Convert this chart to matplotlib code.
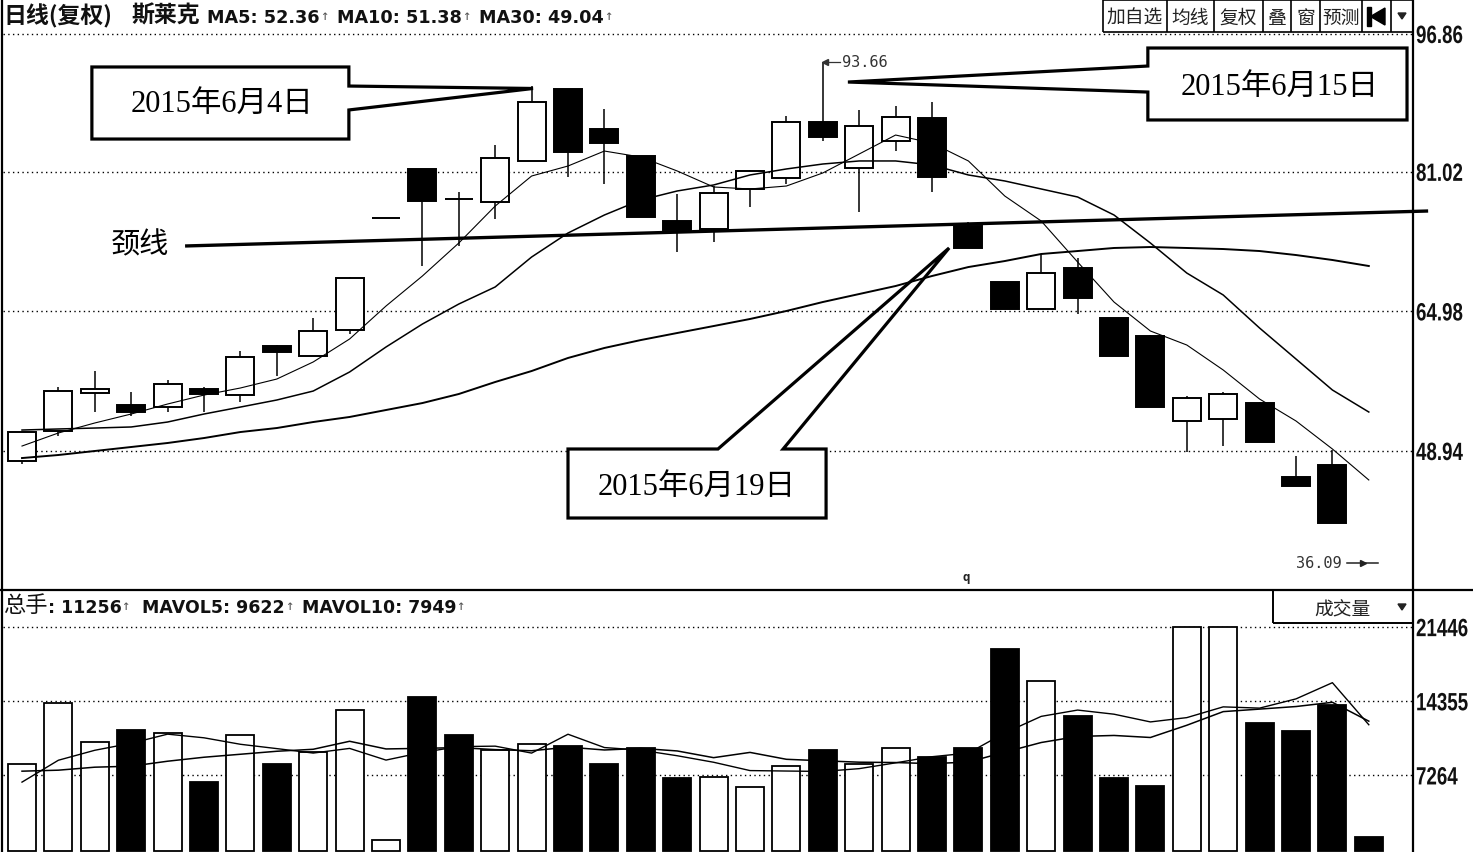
import matplotlib
matplotlib.use("Agg")
import matplotlib.pyplot as plt
from matplotlib import font_manager
from matplotlib.font_manager import FontProperties
from matplotlib.patches import Rectangle, Polygon, PathPatch
from matplotlib.path import Path
from matplotlib.textpath import TextPath

# ---------------- data ----------------
opens = [47.79, 51.24, 55.60, 54.22, 54.00, 56.06, 55.37, 61.01, 59.86, 62.84,
         75.71, 81.35, 77.85, 77.55, 82.27, 90.54, 85.94, 82.84, 75.37, 74.45,
         79.05, 80.31, 86.75, 81.46, 84.56, 87.21, 74.80, 68.36, 65.26, 69.97,
         64.22, 62.15, 52.42, 52.62, 54.45, 45.95, 47.33]
highs = [51.12, 56.29, 58.13, 55.72, 57.10, 56.29, 60.43, 61.12, 64.22, 68.93,
         75.71, 81.35, 78.70, 84.10, 90.88, 90.54, 88.24, 82.84, 78.47, 79.39,
         81.23, 87.44, 93.66, 88.13, 88.59, 89.05, 75.26, 68.36, 71.58, 71.12,
         64.22, 62.27, 55.26, 55.72, 54.57, 48.36, 49.05]
lows = [47.45, 50.66, 53.42, 52.96, 53.42, 53.42, 54.57, 57.56, 59.86, 62.38,
        75.71, 70.20, 72.50, 75.60, 82.27, 80.43, 79.62, 75.83, 71.81, 72.96,
        76.98, 79.62, 84.56, 76.40, 83.38, 78.70, 72.27, 65.26, 65.26, 64.68,
        59.86, 54.00, 48.82, 49.51, 49.97, 44.92, 40.66]
closes = [51.12, 55.83, 56.06, 53.42, 56.64, 55.49, 59.74, 60.32, 62.73, 68.82,
          75.71, 77.67, 77.78, 82.61, 89.04, 83.30, 84.33, 75.83, 74.34, 78.59,
          81.12, 86.75, 85.02, 86.29, 87.32, 80.43, 72.27, 65.26, 69.39, 66.52,
          59.86, 54.00, 55.03, 55.49, 49.97, 44.92, 40.66]

ma5 = [49.51, 51.01, 52.16, 53.19, 54.34, 55.37, 56.18, 57.21, 59.17, 61.81,
       65.60, 69.05, 72.84, 77.09, 80.54, 81.69, 83.41, 82.72, 81.12, 79.28,
       79.05, 79.39, 80.89, 83.07, 85.25, 84.33, 82.27, 78.24, 75.37, 70.66,
       66.06, 62.73, 61.12, 58.25, 54.91, 52.39, 49.17, 45.61]
ma10 = [51.35, 51.47, 51.58, 51.70, 52.27, 53.19, 53.99, 54.80, 55.83, 58.02,
        60.89, 63.53, 65.83, 67.79, 71.23, 73.99, 76.06, 77.78, 78.82, 79.51,
        80.66, 81.35, 81.92, 82.27, 82.27, 81.81, 80.66, 79.97, 79.05, 78.13,
        76.06, 72.84, 69.39, 66.87, 63.07, 59.51, 55.95, 53.42]
ma30 = [48.13, 48.48, 48.94, 49.40, 49.86, 50.43, 51.12, 51.58, 52.27, 52.85,
        53.65, 54.45, 55.49, 56.87, 58.13, 59.63, 60.78, 61.69, 62.50, 63.30,
        64.11, 65.03, 66.06, 66.98, 67.90, 69.05, 70.08, 70.77, 71.58, 71.92,
        72.27, 72.38, 72.27, 72.15, 71.92, 71.46, 70.89, 70.20]

volume = [8404, 14201, 10476, 11651, 11336, 6656, 11107, 8404, 9521, 13561,
          1079, 14774, 11174, 9741, 10247, 10094, 8404, 9932, 7067, 7134,
          6112, 8184, 9741, 8404, 9903, 9044, 9932, 19387, 16302, 12921,
          7067, 6236, 21446, 21446, 12320, 11489, 13972, 1337]
mavol5 = [6626, 8720, 9672, 10340, 11214, 10864, 10245, 9831, 9405, 9850,
          8734, 9468, 10022, 10066, 9403, 11206, 9932, 9684, 9149, 8526,
          7730, 7686, 7648, 7915, 8469, 9055, 9405, 11334, 12914, 13517,
          13122, 12383, 12794, 13823, 13703, 14587, 16135, 12113]
mavol10 = [7673, 7768, 8054, 8149, 8625, 9006, 9291, 9577, 9768, 10532,
           9799, 9857, 9926, 9735, 9626, 9970, 9700, 9853, 9607, 8965,
           9468, 8809, 8666, 8532, 8498, 8393, 8545, 9491, 10414, 10993,
           11089, 10894, 12064, 13368, 13610, 13855, 14259, 12454]

price_ticks = [96.86, 81.02, 64.98, 48.94]
volume_ticks = [21446, 14355, 7264]
high_mark = (22, 93.66)
low_mark = 36.09
header_ma = [("MA5", 52.36), ("MA10", 51.38), ("MA30", 49.04)]
header_vol = [("总手", 11256), ("MAVOL5", 9622), ("MAVOL10", 7949)]
buttons = ["加自选", "均线", "复权", "叠", "窗", "预测"]
event_labels = ["2015年6月4日", "2015年6月15日", "2015年6月19日"]
neck_label = "颈线"
neckline = [(4.48, 72.50), (38.63, 76.52)]

# ---------------- fonts ----------------
names = {f.name for f in font_manager.fontManager.ttflist}
CJK = "Noto Sans CJK SC"
LABEL_FACE = "Liberation Sans" if "Liberation Sans" in names else "DejaVu Sans"
SERIF_MIX = ["Liberation Serif", CJK]

# ---------------- layout ----------------
W, H = 1473, 853
fig = plt.figure(figsize=(W / 100, H / 100), dpi=100, facecolor="white")


def axes_px(left, top, right, bottom):
    return fig.add_axes([left / W, 1 - bottom / H, (right - left) / W, (bottom - top) / H])


X0, STEP = 22.0, 36.4          # candle spacing in pixels
AX_L, AX_R, SEP = 3, 1413, 591


def col(px):
    return (px - X0) / STEP


PPX = (price_ticks[0] - price_ticks[-1]) / (452 - 35)   # price per pixel
ax = axes_px(AX_L, 0, AX_R, SEP)
ax.set_xlim(col(AX_L), col(AX_R))
ax.set_ylim(price_ticks[0] - (SEP - 35) * PPX, price_ticks[0] + 35 * PPX)
ax.axis("off")

VPX = 95.2                                              # volume per pixel
vax = axes_px(AX_L, SEP, AX_R, H)
vax.set_xlim(col(AX_L), col(AX_R))
vax.set_ylim(-0.6 * VPX, (853.6 - SEP) * VPX)
vax.axis("off")

DOT = (0, (1.0, 2.4))
BW = 28 / STEP

# ---- price panel ----
for v in price_ticks:
    ax.axhline(v, color="black", lw=1.0, ls=DOT, zorder=1)

for i, (o, h, l, c) in enumerate(zip(opens, highs, lows, closes)):
    up = c >= o
    top, bot = max(o, c), min(o, c)
    ax.plot([i, i], [l, h], color="black", lw=1.1, zorder=3, solid_capstyle="butt")
    if top - bot < 0.2:
        ax.plot([i - BW / 2, i + BW / 2], [o, o], color="black", lw=1.4, zorder=4,
                solid_capstyle="butt")
    else:
        ax.add_patch(Rectangle((i - BW / 2, bot), BW, top - bot,
                               facecolor="white" if up else "black",
                               edgecolor="black", lw=1.4, zorder=4))

xs = list(range(len(ma5)))
ax.plot(xs, ma5, color="black", lw=0.8, zorder=5)
ax.plot(xs, ma10, color="black", lw=1.1, zorder=5)
ax.plot(xs, ma30, color="black", lw=1.4, zorder=5)

# neckline
(nx0, ny0), (nx1, ny1) = neckline
ax.plot([nx0, nx1], [ny0, ny1], color="black", lw=2.4, zorder=6, clip_on=False,
        solid_capstyle="butt")
ax.text(3.24, 72.73, neck_label, family=CJK, fontsize=21, ha="center", va="center",
        zorder=7)

# highest / lowest price markers
hx, hy = high_mark
ax.plot([hx + 0.02, hx + 0.46], [hy, hy], color="#333333", lw=0.9, zorder=6)
ax.plot([hx + 0.06], [hy], marker="<", ms=4, color="#333333", zorder=6)
ax.text(hx + 0.52, hy, f"{hy:.2f}", family="DejaVu Sans Mono", fontsize=11,
        color="#333333", ha="left", va="center", zorder=6)
ax.plot([36.40, 37.25], [low_mark, low_mark], color="#222222", lw=1.1, zorder=6)
ax.plot([36.84], [low_mark], marker=">", ms=4.5, color="#222222", zorder=6)
ax.text(36.24, low_mark, f"{low_mark:.2f}", family="DejaVu Sans Mono", fontsize=11,
        color="#333333", ha="right", va="center", zorder=6)


# event call-outs
def callout(outline, rect, text, center):
    x0, x1, yb, yt = rect
    ax.add_patch(Rectangle((x0, yb), x1 - x0, yt - yb, facecolor="white",
                           edgecolor="none", zorder=7))
    ax.add_patch(Polygon(outline, closed=True, fill=False, edgecolor="black",
                         lw=2.3, joinstyle="miter", zorder=8))
    ax.text(center[0], center[1], text, family=SERIF_MIX, fontsize=22,
            ha="center", va="center", zorder=9)


x0, x1, yb, yt = 1.92, 8.98, 84.79, 93.07
callout([(x0, yt), (x1, yt), (x1, 90.88), (14.04, 90.60), (x1, 88.13), (x1, yb), (x0, yb)],
        (x0, x1, yb, yt), event_labels[0], (5.49, 88.93))
x0, x1, yb, yt = 30.93, 38.05, 86.98, 95.25
callout([(x0, yt), (x1, yt), (x1, yb), (x0, yb), (x0, 90.19), (22.69, 91.34), (x0, 93.18)],
        (x0, x1, yb, yt), event_labels[1], (34.56, 90.88))
x0, x1, yb, yt = 15.00, 22.09, 41.24, 49.17
callout([(x0, yt), (19.12, yt), (25.47, closes[26]), (20.91, yt), (x1, yt), (x1, yb), (x0, yb)],
        (x0, x1, yb, yt), event_labels[2], (18.54, 44.92))

# ---- volume panel ----
for v in volume_ticks:
    vax.axhline(v, color="black", lw=1.0, ls=DOT, zorder=1)

vol_colors = ["white" if c >= o else "black" for o, c in zip(opens, closes)]
vol_colors += ["black"] * (len(volume) - len(vol_colors))
vax.bar(range(len(volume)), volume, width=BW, color=vol_colors, edgecolor="black",
        lw=1.3, zorder=3)
vax.plot(range(len(mavol5)), mavol5, color="black", lw=1.0, zorder=4)
vax.plot(range(len(mavol10)), mavol10, color="black", lw=1.1, zorder=4)

# ---- frame, header and toolbar (pixel overlay) ----
ov = fig.add_axes([0, 0, 1, 1])
ov.set_xlim(0, W)
ov.set_ylim(H, 0)
ov.axis("off")

K = dict(color="black", solid_capstyle="butt")
ov.plot([2, 2], [0, H], lw=1.6, **K)
ov.plot([AX_R, AX_R], [0, H], lw=1.6, **K)
ov.plot([0, W], [SEP, SEP], lw=1.6, **K)


def narrow_text(x, baseline, s, em, sx, color="#111111"):
    """Bold text drawn as an outline path, squeezed horizontally."""
    tp = TextPath((0, 0), s, size=em, prop=FontProperties(family=LABEL_FACE, weight="bold"))
    verts = tp.vertices.copy()
    verts[:, 0] = x + verts[:, 0] * sx
    verts[:, 1] = baseline - verts[:, 1]
    ov.add_patch(PathPatch(Path(verts, tp.codes), facecolor=color, edgecolor="none"))


def to_px_y(axes, v):
    return H - axes.transData.transform((0, v))[1]


for v in price_ticks:
    narrow_text(1416, to_px_y(ax, v) + 9, f"{v:.2f}", em=25, sx=0.75)
for v in volume_ticks:
    narrow_text(1416, to_px_y(vax, v) + 9, f"{v}", em=25, sx=0.75)

renderer = fig.canvas.get_renderer()


def put(x, y, s, **kw):
    t = ov.text(x, y, s, ha="left", va="center", **kw)
    return x + t.get_window_extent(renderer).width


ARROW = dict(family="DejaVu Sans Mono", fontsize=10, color="#555555")
HEAD_CJK = dict(family=CJK, weight="bold", fontsize=16.5, color="#111111")
HEAD_LAT = dict(family="DejaVu Sans", weight="bold", fontsize=12.7, color="#111111")

put(3, 16, "日线(复权)", **HEAD_CJK)
put(131, 16, "斯莱克", **HEAD_CJK)
for (name, val), x in zip(header_ma, [207, 337, 479]):
    xe = put(x, 18, f"{name}: {val:.2f}", **HEAD_LAT)
    put(xe, 16, "↑", **ARROW)

VOL_LAT = dict(family="DejaVu Sans", weight="bold", fontsize=12.5, color="#111111")
name, val = header_vol[0]
xe = put(3, 606, name, family=CJK, fontsize=16, color="#111111")
xe = put(xe, 608, f": {val}", **VOL_LAT)
put(xe, 606, "↑", **ARROW)
for (name, val), x in zip(header_vol[1:], [142, 302]):
    xe = put(x, 608, f"{name}: {val}", **VOL_LAT)
    put(xe, 606, "↑", **ARROW)

# toolbar buttons
edges = [1103, 1167, 1214, 1263, 1291, 1320, 1362, 1391, AX_R]
ov.plot([1103, AX_R], [33, 33], lw=1.2, **K)
ov.plot([1103, AX_R], [0.5, 0.5], lw=1.2, **K)
for e in edges[:-1]:
    ov.plot([e, e], [0, 33], lw=1.2, **K)
for label, a, b in zip(buttons, edges[:-3], edges[1:-2]):
    ov.text((a + b) / 2, 18, label, family=CJK, fontsize=13.5, color="#222222",
            ha="center", va="center")
ov.add_patch(Rectangle((1367, 8), 3.5, 19, color="black"))
ov.add_patch(Polygon([(1370.5, 17.5), (1385, 9), (1385, 26)], color="black"))
ov.add_patch(Polygon([(1398, 14), (1406, 14), (1402, 20)], color="#222222"))

# indicator selector
ov.plot([1273, 1273], [SEP, 624], lw=1.4, **K)
ov.plot([1273, AX_R], [624, 624], lw=1.4, **K)
ov.text(1342, 610, "成交量", family=CJK, fontsize=13.5, color="#222222",
        ha="center", va="center")
ov.add_patch(Polygon([(1398, 605), (1406, 605), (1402, 611)], color="#222222"))

ov.text(966, 577, "q", family="DejaVu Sans Mono", fontsize=9, weight="bold",
        ha="center", va="center", color="#222222")

fig.savefig("out.png", dpi=100, facecolor="white")
